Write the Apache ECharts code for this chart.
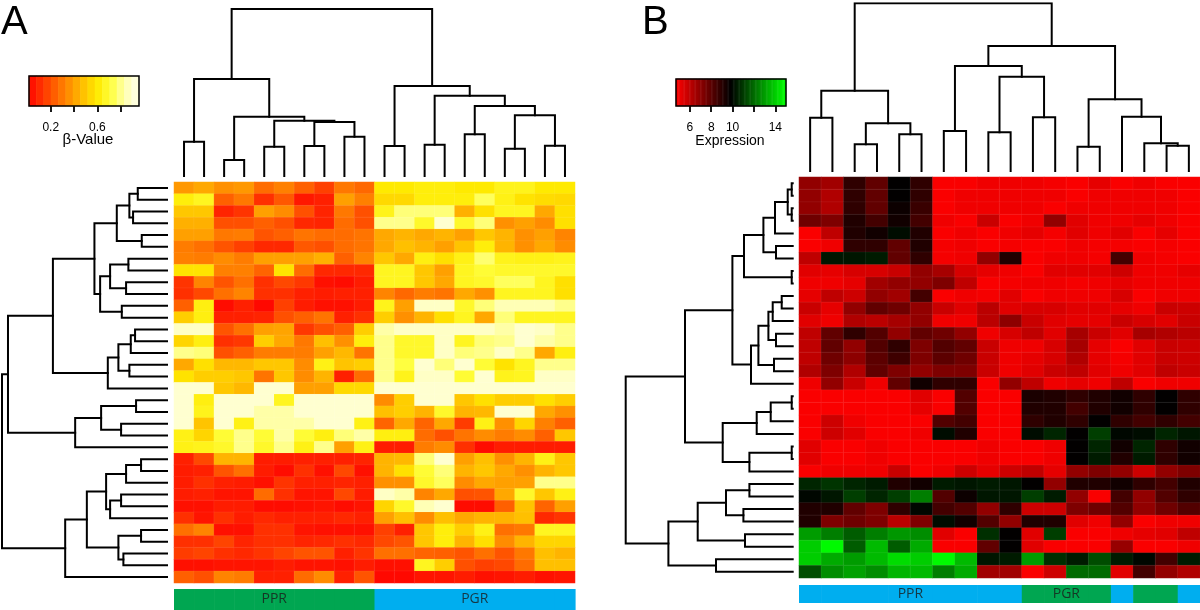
<!DOCTYPE html>
<html><head><meta charset="utf-8">
<script src="https://cdn.jsdelivr.net/npm/echarts@6/dist/echarts.min.js"></script>
<style>html,body{margin:0;padding:0;background:#fff}#c{width:1200px;height:610px}</style>
</head><body><div id="c"></div>
<script>
// ---------------- Panel A: methylation (beta values) ----------------
const samplesA = ['A01','A02','A03','A04','A05','A06','A07','A08','A09','A10','A11','A12','A13','A14','A15','A16','A17','A18','A19','A20'];
const probesA = ['p01','p02','p03','p04','p05','p06','p07','p08','p09','p10','p11','p12','p13','p14','p15','p16','p17',
  'p18','p19','p20','p21','p22','p23','p24','p25','p26','p27','p28','p29','p30','p31','p32','p33','p34'];
const groupsA = ['PPR','PPR','PPR','PPR','PPR','PPR','PPR','PPR','PPR','PPR','PGR','PGR','PGR','PGR','PGR','PGR','PGR','PGR','PGR','PGR'];
const betaA = [
 [0.38,0.42,0.36,0.38,0.27,0.32,0.24,0.16,0.30,0.26,0.60,0.60,0.62,0.62,0.60,0.60,0.65,0.65,0.60,0.60],
 [0.62,0.66,0.24,0.30,0.12,0.22,0.06,0.08,0.40,0.32,0.55,0.55,0.62,0.62,0.62,0.75,0.64,0.58,0.56,0.55],
 [0.50,0.50,0.09,0.13,0.40,0.35,0.20,0.09,0.30,0.20,0.65,0.78,0.78,0.78,0.44,0.57,0.66,0.66,0.42,0.57],
 [0.44,0.44,0.20,0.20,0.24,0.20,0.10,0.09,0.27,0.20,0.80,0.80,0.68,0.90,0.68,0.78,0.36,0.40,0.35,0.57],
 [0.40,0.40,0.30,0.31,0.21,0.24,0.29,0.27,0.27,0.29,0.42,0.45,0.42,0.45,0.40,0.50,0.45,0.36,0.40,0.33],
 [0.31,0.28,0.21,0.16,0.10,0.10,0.22,0.20,0.27,0.29,0.42,0.48,0.45,0.40,0.49,0.62,0.45,0.36,0.42,0.35],
 [0.32,0.31,0.35,0.31,0.40,0.40,0.40,0.44,0.24,0.33,0.50,0.42,0.63,0.57,0.64,0.77,0.65,0.64,0.64,0.65],
 [0.58,0.58,0.32,0.32,0.25,0.58,0.27,0.10,0.10,0.10,0.66,0.66,0.50,0.40,0.66,0.70,0.68,0.68,0.68,0.68],
 [0.13,0.33,0.21,0.28,0.12,0.18,0.14,0.04,0.03,0.07,0.66,0.66,0.50,0.42,0.66,0.68,0.75,0.75,0.66,0.57],
 [0.12,0.18,0.28,0.33,0.12,0.12,0.08,0.07,0.08,0.08,0.33,0.26,0.31,0.29,0.42,0.36,0.66,0.66,0.66,0.57],
 [0.24,0.63,0.03,0.08,0.02,0.16,0.07,0.04,0.04,0.07,0.65,0.40,0.88,0.88,0.68,0.78,0.85,0.85,0.85,0.80],
 [0.52,0.63,0.08,0.08,0.09,0.20,0.24,0.29,0.08,0.12,0.52,0.36,0.45,0.57,0.66,0.42,0.78,0.66,0.66,0.66],
 [0.88,0.88,0.21,0.28,0.40,0.41,0.14,0.20,0.24,0.52,0.83,0.88,0.88,0.88,0.88,0.88,0.83,0.90,0.88,0.80],
 [0.54,0.63,0.12,0.14,0.52,0.42,0.30,0.48,0.36,0.62,0.80,0.68,0.68,0.88,0.66,0.78,0.80,0.90,0.83,0.80],
 [0.80,0.78,0.20,0.24,0.31,0.31,0.31,0.40,0.46,0.29,0.80,0.68,0.68,0.88,0.78,0.80,0.88,0.80,0.42,0.63],
 [0.42,0.57,0.46,0.46,0.50,0.50,0.35,0.64,0.49,0.52,0.80,0.72,0.90,0.78,0.90,0.70,0.58,0.66,0.80,0.80],
 [0.58,0.52,0.52,0.50,0.29,0.50,0.35,0.45,0.08,0.27,0.80,0.65,0.88,0.88,0.70,0.90,0.65,0.66,0.88,0.88],
 [0.90,0.90,0.50,0.46,0.90,0.90,0.40,0.40,0.55,0.55,0.90,0.90,0.90,0.90,0.90,0.90,0.90,0.90,0.90,0.90],
 [0.90,0.63,0.90,0.90,0.90,0.66,0.90,0.90,0.90,0.90,0.35,0.52,0.90,0.90,0.50,0.57,0.52,0.52,0.57,0.52],
 [0.90,0.65,0.90,0.90,0.83,0.83,0.90,0.90,0.90,0.90,0.48,0.52,0.45,0.68,0.45,0.46,0.90,0.90,0.42,0.36],
 [0.90,0.49,0.90,0.64,0.83,0.83,0.83,0.90,0.90,0.64,0.25,0.42,0.25,0.42,0.15,0.64,0.36,0.54,0.32,0.24],
 [0.64,0.54,0.70,0.80,0.70,0.83,0.70,0.63,0.78,0.83,0.63,0.63,0.27,0.20,0.29,0.35,0.31,0.35,0.24,0.50],
 [0.64,0.65,0.68,0.80,0.68,0.80,0.64,0.80,0.40,0.64,0.07,0.07,0.31,0.35,0.12,0.03,0.07,0.07,0.07,0.07],
 [0.08,0.18,0.45,0.45,0.07,0.07,0.08,0.08,0.08,0.09,0.45,0.46,0.78,0.90,0.40,0.48,0.36,0.45,0.64,0.50],
 [0.07,0.08,0.21,0.28,0.07,0.03,0.12,0.04,0.18,0.04,0.45,0.57,0.70,0.78,0.45,0.50,0.42,0.36,0.45,0.50],
 [0.07,0.12,0.08,0.07,0.04,0.13,0.08,0.08,0.09,0.08,0.36,0.36,0.68,0.75,0.35,0.42,0.40,0.40,0.80,0.80],
 [0.07,0.08,0.05,0.05,0.27,0.12,0.05,0.05,0.18,0.07,0.88,0.83,0.33,0.42,0.20,0.21,0.42,0.68,0.50,0.64],
 [0.04,0.04,0.07,0.07,0.03,0.03,0.04,0.05,0.03,0.05,0.54,0.68,0.85,0.90,0.03,0.03,0.24,0.49,0.25,0.40],
 [0.12,0.05,0.12,0.07,0.10,0.08,0.08,0.08,0.10,0.08,0.40,0.48,0.35,0.48,0.42,0.45,0.45,0.48,0.10,0.13],
 [0.28,0.33,0.04,0.04,0.12,0.12,0.05,0.04,0.04,0.04,0.16,0.08,0.50,0.62,0.52,0.64,0.28,0.30,0.66,0.66],
 [0.12,0.12,0.17,0.09,0.12,0.12,0.09,0.10,0.12,0.10,0.18,0.21,0.50,0.62,0.45,0.57,0.35,0.45,0.54,0.54],
 [0.15,0.17,0.12,0.10,0.13,0.17,0.21,0.21,0.08,0.13,0.28,0.28,0.25,0.24,0.21,0.28,0.21,0.30,0.48,0.45],
 [0.04,0.04,0.05,0.05,0.05,0.07,0.05,0.05,0.04,0.07,0.04,0.04,0.66,0.52,0.20,0.16,0.18,0.27,0.48,0.48],
 [0.24,0.20,0.33,0.31,0.08,0.08,0.27,0.35,0.08,0.21,0.02,0.02,0.05,0.05,0.07,0.04,0.05,0.07,0.04,0.05]
];
// dendrograms: [left, right, height]; negative = leaf (1-based, display order), positive = earlier merge step
const treeColsA = [[-1,-2,34.3],[-3,-4,16],[-5,-6,29.3],[-7,-8,30],[-9,-10,39.3],[4,5,54],[3,6,55.3],[2,7,59.3],[1,8,97],
  [-11,-12,30],[-13,-14,31.3],[-15,-16,41.7],[-17,-18,27.3],[-19,-20,30.3],[13,14,60.7],[12,15,70],[11,16,80.3],[10,17,90],[9,18,167]];
const treeRowsA = [[-1,-2,29.3],[-3,-4,34],[1,2,37.7],[-5,-6,25.3],[3,4,50.3],[-7,-8,38.7],[-9,-10,41],[6,7,57],[-11,-12,45.3],
  [8,9,67],[5,10,72.7],[-13,-14,32],[12,-15,36.3],[-16,-17,37.7],[13,14,48.7],[15,-18,59.3],[11,16,114.3],
  [-19,-20,31],[-21,-22,46],[18,19,66],[20,-23,92],[17,21,159.3],
  [-24,-25,26],[23,-26,41],[-27,-28,46],[25,-29,57],[24,26,61],[-30,-31,26],[-32,-33,43.7],[28,29,48.7],[27,30,80.3],[31,-34,102],[22,32,165.3]];
const keyTicksA = [0.2,0.4,0.6,0.8];
const keyLabelsA = [0.2,0.6];

// ---------------- Panel B: expression ----------------
const samplesB = ['B01','B02','B03','B04','B05','B06','B07','B08','B09','B10','B11','B12','B13','B14','B15','B16','B17','B18'];
const genesB = ['g01','g02','g03','g04','g05','g06','g07','g08','g09','g10','g11','g12','g13','g14','g15','g16',
  'g17','g18','g19','g20','g21','g22','g23','g24','g25','g26','g27','g28','g29','g30','g31','g32'];
const groupsB = ['PPR','PPR','PPR','PPR','PPR','PPR','PPR','PPR','PPR','PPR','PGR','PGR','PGR','PGR','PPR','PGR','PGR','PPR'];
const exprB = [
 [6.9,6.6,8.9,7.9,9.8,8.9,4.8,4.8,5.0,5.0,5.0,4.9,4.8,5.2,4.8,5.0,4.8,4.8],
 [6.9,6.3,8.9,7.9,9.8,8.9,4.8,5.0,5.0,5.0,5.0,5.0,4.8,5.0,5.0,5.0,5.0,4.8],
 [6.9,6.3,8.9,7.9,9.6,8.7,4.8,5.0,5.0,5.0,5.0,4.8,5.0,5.0,5.0,5.0,5.0,4.8],
 [7.6,7.3,9.2,8.5,9.5,8.5,5.0,4.8,5.8,4.8,5.0,6.9,5.3,5.0,5.0,5.2,5.0,4.8],
 [4.8,6.0,9.2,9.5,10.1,9.2,4.8,5.0,4.8,5.0,5.2,4.9,5.3,5.0,5.3,4.8,5.2,4.8],
 [4.8,5.0,8.9,8.9,7.9,9.2,4.9,5.0,4.8,4.9,4.8,4.8,5.0,4.9,4.9,4.8,4.9,4.8],
 [6.0,10.3,10.3,10.4,7.9,8.9,4.9,5.0,6.9,9.2,4.8,5.0,5.0,4.9,8.5,5.0,4.9,4.8],
 [5.3,5.2,5.5,5.5,5.8,6.9,6.5,5.5,5.2,5.0,4.8,5.3,5.3,5.3,5.7,5.0,5.0,5.2],
 [5.0,5.0,5.2,6.6,6.9,6.9,7.3,6.0,4.8,4.9,5.0,5.0,4.9,5.0,5.2,5.0,5.0,5.0],
 [5.2,6.0,5.7,6.9,6.6,8.5,4.8,5.0,4.9,5.3,4.8,5.0,5.0,5.0,5.5,4.8,5.0,5.0],
 [5.8,5.2,6.9,7.9,7.6,6.9,5.8,5.3,6.1,5.3,5.5,5.5,5.3,5.3,5.2,5.0,5.8,5.7],
 [5.3,5.0,6.3,6.1,6.5,6.9,5.0,5.0,6.1,7.0,5.8,5.3,5.2,5.2,5.8,5.5,5.3,5.8],
 [6.0,7.9,8.9,8.2,6.9,7.9,7.6,6.9,5.0,5.5,6.0,5.3,6.5,5.8,5.3,6.5,6.3,6.1],
 [6.0,7.9,6.9,8.2,8.9,7.3,8.2,7.9,5.8,5.0,5.0,5.5,6.5,5.2,4.8,5.3,5.8,5.7],
 [6.0,7.6,7.0,8.0,8.6,7.3,8.0,7.6,5.8,5.0,5.2,5.5,6.3,5.2,4.9,5.3,5.8,5.7],
 [6.3,7.3,6.3,7.9,7.3,6.9,7.3,7.3,5.8,5.0,5.3,5.8,6.0,5.3,5.0,5.3,6.0,5.8],
 [5.0,6.9,5.8,5.0,7.9,9.5,8.9,8.9,4.8,6.9,6.0,5.0,5.2,5.0,6.0,4.8,5.0,5.0],
 [4.8,4.8,4.8,4.8,4.8,5.3,4.8,8.2,4.8,4.8,9.3,9.2,8.9,9.2,9.5,8.9,9.8,8.9],
 [4.8,4.8,4.8,4.8,4.8,5.2,4.8,8.2,4.8,4.8,9.2,9.2,8.5,9.2,9.5,8.9,9.8,8.9],
 [4.8,5.7,5.0,4.8,4.8,4.8,8.2,8.5,4.8,4.8,8.9,9.2,8.9,9.8,8.9,8.5,8.9,8.5],
 [4.8,5.7,5.3,4.8,4.8,5.0,10.1,9.2,4.8,4.8,10.1,10.6,9.8,11.1,10.0,10.1,10.6,10.3],
 [5.3,4.8,4.8,5.0,4.8,4.8,4.8,4.8,5.0,4.8,4.8,5.0,9.8,10.6,9.5,10.6,8.9,9.5],
 [5.3,4.8,4.8,5.0,4.8,4.8,4.8,4.8,5.0,4.8,4.8,5.0,9.8,10.4,9.2,10.4,8.9,9.5],
 [4.8,5.0,5.0,5.0,5.8,4.8,5.0,5.7,5.2,5.7,6.0,5.2,6.9,7.3,6.9,5.7,6.9,7.3],
 [10.6,10.9,10.6,10.4,9.2,9.5,10.4,10.3,10.4,10.3,9.8,6.9,9.2,9.2,9.5,8.9,8.5,9.2],
 [10.0,10.3,11.1,10.6,11.1,12.4,8.2,9.6,10.3,10.3,11.1,10.4,6.9,4.8,8.5,6.9,8.2,8.9],
 [9.2,9.2,7.9,7.3,8.9,10.0,8.5,8.2,6.9,8.9,5.7,5.7,7.3,7.6,8.2,6.9,7.6,8.2],
 [9.2,7.3,7.6,7.3,6.1,7.3,10.1,9.5,8.2,6.9,9.2,9.2,5.3,5.0,6.9,4.8,5.0,5.0],
 [13.0,12.4,11.7,12.4,12.9,12.7,5.3,4.8,10.8,9.8,5.3,11.1,4.8,4.8,5.0,5.2,5.3,6.0],
 [14.0,14.9,11.7,13.6,11.7,13.3,4.8,4.8,7.9,9.8,5.3,4.8,4.8,4.8,6.8,4.8,4.8,5.0],
 [14.0,13.3,13.0,13.6,14.3,14.0,14.9,13.6,10.3,10.4,13.0,10.8,10.4,11.4,10.4,10.0,8.5,10.4],
 [11.4,12.7,13.1,12.7,13.5,13.6,12.4,13.3,6.6,6.6,4.8,5.7,12.0,12.0,5.3,8.5,6.9,6.3]
];
const treeColsB = [[-1,-2,53.3],[-3,-4,26.7],[-5,-6,36.7],[2,3,47.7],[1,4,80.3],[-7,-8,40],[-9,-10,38.7],[-11,-12,53.7],
  [7,8,94.3],[6,9,105],[-13,-14,24.3],[-17,-18,25.3],[-16,12,27.7],[-15,13,54.3],[11,14,71.7],[10,15,125],[5,16,167.7]];
const treeRowsB = [[-1,-2,1],[-3,-4,1],[1,2,5],[3,-5,17.7],[-6,-7,16.7],[4,5,29.3],[-8,-9,1],[6,7,48.7],
  [-10,-11,11],[9,-12,20],[-13,-14,16.7],[10,11,24.3],[-15,-16,18.7],[12,13,34.3],[14,-17,41.7],[8,15,60.3],
  [-18,-19,1],[17,-20,22],[18,-21,36],[-22,-23,1],[20,-24,43.3],[19,21,70],[16,22,107.7],
  [-25,-26,43.3],[-27,-28,49.3],[24,25,66.7],[-29,-30,47.7],[26,27,95],[-31,-32,76.7],[28,29,124.3],[23,30,167]];
const keyTicksB = [6,8,10,12,14];
const keyLabelsB = [6,8,10,14];

// ---------------- helpers ----------------
function dendroSegments(merges) {
  const pos = [], hgt = [], out = [];
  const P = i => i < 0 ? (-i - 1) : pos[i - 1];
  const H = i => i < 0 ? 0 : hgt[i - 1];
  merges.forEach(([a, b, h]) => {
    const pa = P(a), pb = P(b);
    out.push([[pa, H(a)], [pa, h], [pb, h], [pb, H(b)]]);
    pos.push((pa + pb) / 2); hgt.push(h);
  });
  return out;
}
function cells(matrix) {
  const d = [];
  matrix.forEach((row, r) => row.forEach((v, c) => d.push([c, r, v])));
  return d;
}
function runLabels(groups) {
  const seen = {}, out = []; let s = 0;
  for (let i = 1; i <= groups.length; i++) {
    if (i === groups.length || groups[i] !== groups[s]) {
      if (!seen[groups[s]]) { seen[groups[s]] = 1; out.push([(s + i - 1) / 2, 0.5, groups[s]]); }
      s = i;
    }
  }
  return out;
}
const heatPalette = ['#FF0000','#FF3000','#FF6000','#FF9000','#FFC000','#FFEA00','#FFFF40','#FFFFB0','#FFFFF0'];
const colorsA = {PPR:'#00A651', PGR:'#00AEEF'};
const colorsB = {PPR:'#00AEEF', PGR:'#00A651'};
const A_MIN = 0.014, A_MAX = 0.956, B_MIN = 4.7, B_MAX = 15;
const keyStepsA = 15, keyStepsB = 90;
const keyCatsA = [], keyDataA = [], keyCatsB = [], keyDataB = [];
for (let i = 0; i < keyStepsA; i++) { keyCatsA.push('k' + i); keyDataA.push([i, 0, A_MIN + (i + 0.5) * (A_MAX - A_MIN) / keyStepsA]); }
for (let i = 0; i < keyStepsB; i++) { keyCatsB.push('k' + i); keyDataB.push([i, 0, B_MIN + (i + 0.5) * (B_MAX - B_MIN) / keyStepsB]); }

const lineStyle = {color:'#000', width:2, opacity:1, cap:'square'};
function barSeries(groups, colors, xi, yi) {
  return {type:'custom', xAxisIndex:xi, yAxisIndex:yi, silent:true,
    data: groups.map((g, i) => [i, g === 'PPR' ? 0 : 1]),
    renderItem: (params, api) => {
      const i = api.value(0), g = api.value(1) === 0 ? 'PPR' : 'PGR';
      const p0 = api.coord([i - 0.5, 1]), p1 = api.coord([i + 0.5, 0]);
      return {type:'rect', shape:{x:p0[0], y:p0[1], width:p1[0] - p0[0] + 0.6, height:p1[1] - p0[1]}, style:{fill:colors[g]}};
    }};
}
function labelSeries(groups, xi, yi) {
  return {type:'scatter', xAxisIndex:xi, yAxisIndex:yi, silent:true, symbolSize:1,
    itemStyle:{color:'transparent'}, data: runLabels(groups),
    label:{show:true, position:'inside', formatter: p => p.data[2], color:'#1a1a1a', fontSize:14, fontFamily:'Open Sans'}};
}
function keyValueAxis(gi, min, max, ticks, labels) {
  return {type:'value', gridIndex:gi, position:'bottom', min:min, max:max,
    axisLine:{show:false}, splitLine:{show:false},
    axisTick:{show:true, customValues:ticks, length:6, lineStyle:{color:'#000', width:1.8}},
    axisLabel:{show:true, customValues:labels, color:'#000', fontSize:12, margin:16, fontFamily:'Liberation Sans'}};
}

const option = {
  animation:false,
  grid:[
    {left:174, top:182, width:401, height:401},        // 0 heat A
    {left:174, top:9, width:401, height:167},          // 1 top dendro A
    {left:2, top:182, width:165, height:401},          // 2 left dendro A
    {left:174, top:589, width:401, height:21},         // 3 bar A
    {left:29, top:76, width:110, height:30, show:true, z:10, borderColor:'#000', borderWidth:1.5, backgroundColor:'transparent'}, // 4 key A
    {left:799, top:177, width:401, height:401},        // 5 heat B
    {left:799, top:3.3, width:401, height:167.7},      // 6 top dendro B
    {left:625.7, top:177, width:167, height:401},      // 7 left dendro B
    {left:799, top:585, width:401, height:18},         // 8 bar B
    {left:676, top:79, width:110, height:27, show:true, z:10, borderColor:'#000', borderWidth:1.5, backgroundColor:'transparent'} // 9 key B
  ],
  xAxis:[
    {type:'category', gridIndex:0, data:samplesA, show:false},
    {type:'value', gridIndex:1, min:-0.5, max:samplesA.length - 0.5, show:false},
    {type:'value', gridIndex:2, min:0, max:165.3, inverse:true, show:false},
    {type:'value', gridIndex:3, min:-0.5, max:samplesA.length - 0.5, show:false},
    {type:'category', gridIndex:4, data:keyCatsA, show:false},
    keyValueAxis(4, A_MIN, A_MAX, keyTicksA, keyLabelsA),
    {type:'category', gridIndex:5, data:samplesB, show:false},
    {type:'value', gridIndex:6, min:-0.5, max:samplesB.length - 0.5, show:false},
    {type:'value', gridIndex:7, min:0, max:167, inverse:true, show:false},
    {type:'value', gridIndex:8, min:-0.5, max:samplesB.length - 0.5, show:false},
    {type:'category', gridIndex:9, data:keyCatsB, show:false},
    keyValueAxis(9, B_MIN, B_MAX, keyTicksB, keyLabelsB)
  ],
  yAxis:[
    {type:'category', gridIndex:0, data:probesA, inverse:true, show:false},
    {type:'value', gridIndex:1, min:0, max:167, show:false},
    {type:'value', gridIndex:2, min:-0.5, max:probesA.length - 0.5, inverse:true, show:false},
    {type:'value', gridIndex:3, min:0, max:1, show:false},
    {type:'category', gridIndex:4, data:['k'], show:false},
    {type:'category', gridIndex:5, data:genesB, inverse:true, show:false},
    {type:'value', gridIndex:6, min:0, max:167.7, show:false},
    {type:'value', gridIndex:7, min:-0.5, max:genesB.length - 0.5, inverse:true, show:false},
    {type:'value', gridIndex:8, min:0, max:1, show:false},
    {type:'category', gridIndex:9, data:['k'], show:false}
  ],
  visualMap:[
    {type:'continuous', show:false, seriesIndex:[0,5], dimension:2, min:0, max:0.96, inRange:{color:heatPalette}},
    {type:'continuous', show:false, seriesIndex:[6,11], dimension:2, min:B_MIN, max:B_MAX, inRange:{color:['#FF0000','#000000','#00FF00']}}
  ],
  series:[
    {type:'heatmap', xAxisIndex:0, yAxisIndex:0, data:cells(betaA), progressive:0, silent:true,
      itemStyle:{borderColor:'rgba(255,255,255,0.10)', borderWidth:0.6}, emphasis:{disabled:true}},
    {type:'lines', coordinateSystem:'cartesian2d', xAxisIndex:1, yAxisIndex:1, polyline:true, silent:true,
      data:dendroSegments(treeColsA).map(s => ({coords:s})), lineStyle:lineStyle},
    {type:'lines', coordinateSystem:'cartesian2d', xAxisIndex:2, yAxisIndex:2, polyline:true, silent:true,
      data:dendroSegments(treeRowsA).map(s => ({coords:s.map(([p, h]) => [h, p])})), lineStyle:lineStyle},
    barSeries(groupsA, colorsA, 3, 3),
    labelSeries(groupsA, 3, 3),
    {type:'heatmap', xAxisIndex:4, yAxisIndex:4, data:keyDataA, silent:true, emphasis:{disabled:true}},
    {type:'heatmap', xAxisIndex:6, yAxisIndex:5, data:cells(exprB), progressive:0, silent:true,
      itemStyle:{borderColor:'rgba(255,255,255,0.10)', borderWidth:0.6}, emphasis:{disabled:true}},
    {type:'lines', coordinateSystem:'cartesian2d', xAxisIndex:7, yAxisIndex:6, polyline:true, silent:true,
      data:dendroSegments(treeColsB).map(s => ({coords:s})), lineStyle:lineStyle},
    {type:'lines', coordinateSystem:'cartesian2d', xAxisIndex:8, yAxisIndex:7, polyline:true, silent:true,
      data:dendroSegments(treeRowsB).map(s => ({coords:s.map(([p, h]) => [h, p])})), lineStyle:lineStyle},
    barSeries(groupsB, colorsB, 9, 8),
    labelSeries(groupsB, 9, 8),
    {type:'heatmap', xAxisIndex:10, yAxisIndex:9, data:keyDataB, silent:true, emphasis:{disabled:true}}
  ],
  graphic:[
    {type:'text', x:1, y:23, style:{text:'A', font:'40px "Liberation Sans"', fill:'#000', verticalAlign:'middle'}},
    {type:'text', x:642, y:23, style:{text:'B', font:'40px "Liberation Sans"', fill:'#000', verticalAlign:'middle'}},
    {type:'text', x:88, y:140, style:{text:'β-Value', font:'15px "Liberation Sans"', fill:'#000', align:'center', verticalAlign:'middle'}},
    {type:'text', x:730, y:141, style:{text:'Expression', font:'14px "Liberation Sans"', fill:'#000', align:'center', verticalAlign:'middle'}}
  ]
};
const chart = echarts.init(document.getElementById('c'), null, {renderer:'canvas'});
chart.setOption(option);
</script></body></html>
